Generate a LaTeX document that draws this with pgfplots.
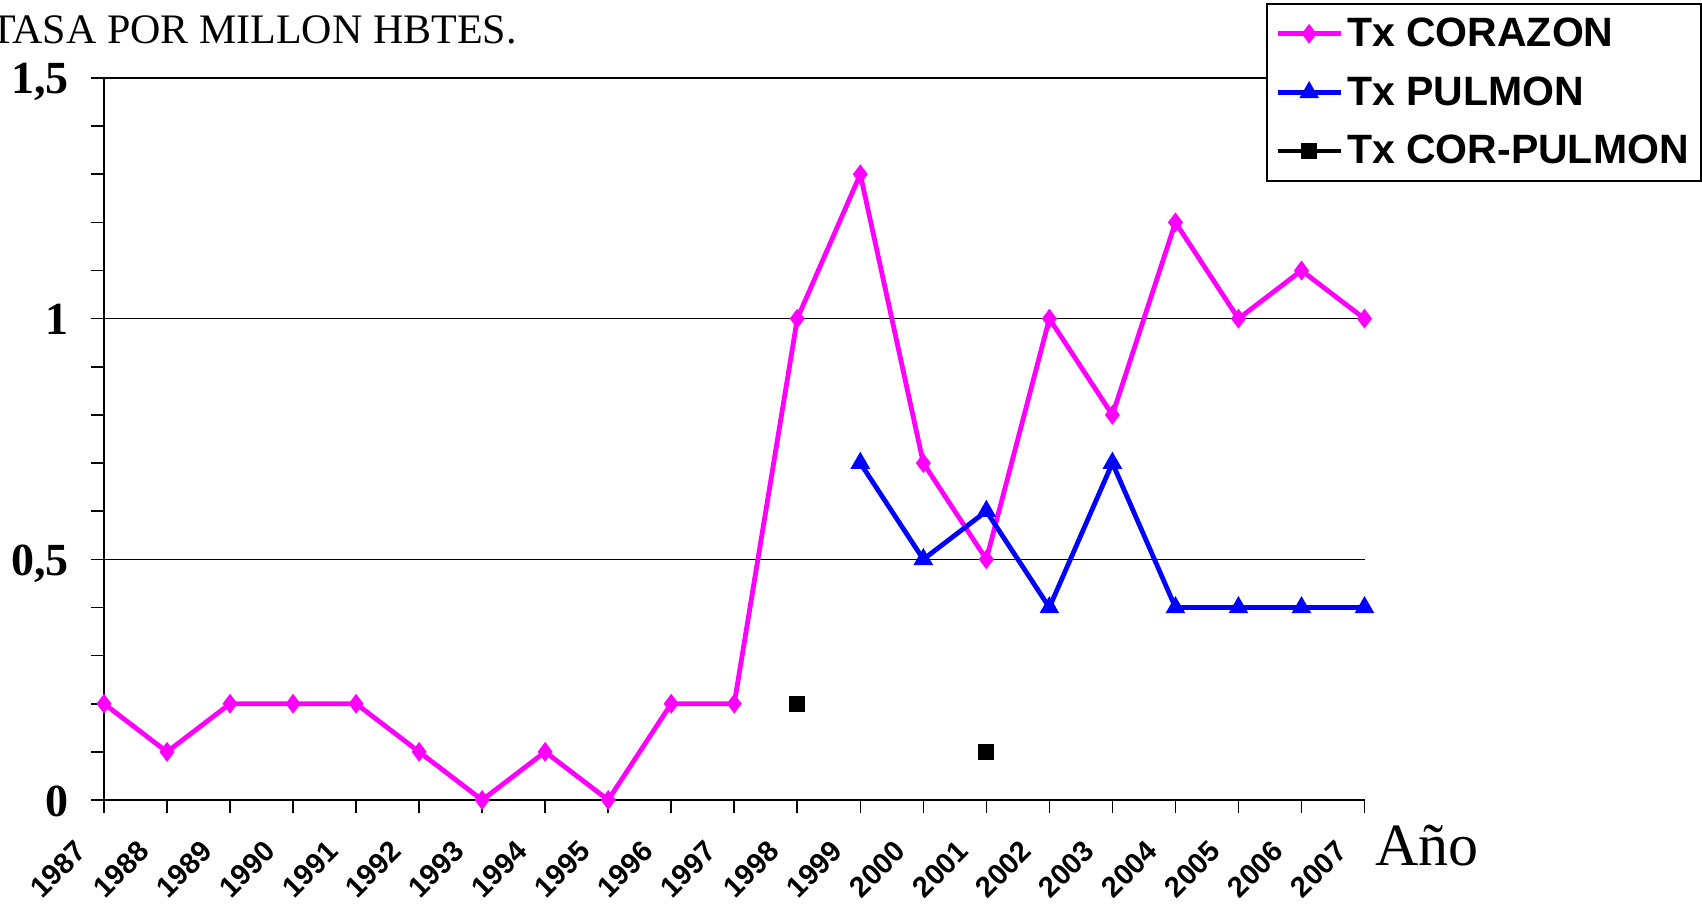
\documentclass[border=0pt]{standalone}
\usepackage{fontspec}
\setmainfont{Liberation Serif}
\newfontfamily\arialfont{Liberation Sans}
\usepackage{pgfplots}
\pgfplotsset{compat=1.18}
\definecolor{mag}{RGB}{255,0,255}
\definecolor{blu}{RGB}{0,0,255}
\begin{document}
\begin{tikzpicture}
\path[use as bounding box] (-52pt,-55.5pt) rectangle (799pt,400pt);
\begin{axis}[
  at={(0,0)}, anchor=south west,
  scale only axis,
  width=630.25pt, height=361pt,
  xmin=1987, xmax=2007, ymin=0, ymax=1.5,
  axis x line*=bottom, axis y line*=left,
  axis line style={line width=1pt, black},
  xtick={1987,1988,1989,1990,1991,1992,1993,1994,1995,1996,1997,1998,1999,2000,2001,2002,2003,2004,2005,2006,2007},
  xticklabels={1987,1988,1989,1990,1991,1992,1993,1994,1995,1996,1997,1998,1999,2000,2001,2002,2003,2004,2005,2006,2007},
  ytick={0,0.5,1,1.5},
  yticklabels={0,{0,5},1,{1,5}},
  minor ytick={0.1,0.2,0.3,0.4,0.6,0.7,0.8,0.9,1.1,1.2,1.3,1.4},
  tick align=outside,
  major tick length=6.5pt, minor tick length=6.5pt,
  tick style={black, line width=0.8pt},
  ymajorgrids, grid style={black, line width=0.8pt},
  xticklabel style={font=\arialfont\bfseries\fontsize{14.5}{14.5}\selectfont, rotate=45, anchor=north east, inner sep=0pt, xshift=-19.8pt, yshift=1.7pt},
  yticklabel style={font=\bfseries\fontsize{23}{23}\selectfont, anchor=base east, inner sep=0pt, xshift=-11pt, yshift=-8pt},
  clip=false,
  unbounded coords=jump,
  legend style={at={(1,1)}, anchor=north east, xshift=168.5pt, yshift=37.4pt,
    draw=black, line width=0.8pt, fill=white,
    font=\arialfont\bfseries\fontsize{20.5}{20.5}\selectfont,
    cells={anchor=west}, row sep=9.5pt, inner xsep=4pt, inner ysep=5pt},
  legend image code/.code={\draw[mark repeat=2,mark phase=2,#1] plot coordinates {(0pt,0pt) (15.75pt,0pt) (31.5pt,0pt)};},
]
\addplot[mag, line width=2.4pt, mark=diamond*, mark size=3pt, mark options={solid, fill=mag}] coordinates {
(1987,0.2) (1988,0.1) (1989,0.2) (1990,0.2) (1991,0.2) (1992,0.1) (1993,0) (1994,0.1) (1995,0) (1996,0.2) (1997,0.2) (1998,1.0) (1999,1.3) (2000,0.7) (2001,0.5) (2002,1.0) (2003,0.8) (2004,1.2) (2005,1.0) (2006,1.1) (2007,1.0)};
\addlegendentry{Tx CORAZON}
\addplot[blu, line width=2.4pt, mark=triangle*, mark size=3.3pt, mark options={solid, fill=blu}] coordinates {
(1999,0.7) (2000,0.5) (2001,0.6) (2002,0.4) (2003,0.7) (2004,0.4) (2005,0.4) (2006,0.4) (2007,0.4)};
\addlegendentry{Tx PULMON}
\addplot[black, line width=2.4pt, mark=square*, mark size=2.8pt, mark options={solid, fill=black}] coordinates {
(1998,0.2) (1999,nan) (2000,nan) (2001,0.1)};
\addlegendentry{Tx COR-PULMON}
\end{axis}
\node[anchor=base east, inner sep=0pt, font=\fontsize{21}{21}\selectfont] at (206.5pt,378pt) {TASA POR MILLON HBTES.};
\node[anchor=base west, inner sep=0pt, font=\fontsize{30}{30}\selectfont] at (635.5pt,-32.5pt) {Año};
\end{tikzpicture}
\end{document}
